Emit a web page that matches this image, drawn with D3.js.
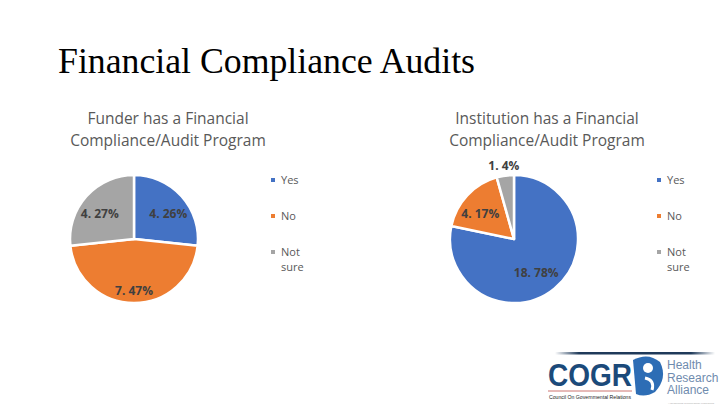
<!DOCTYPE html>
<html><head><meta charset="utf-8">
<script src="https://cdn.jsdelivr.net/npm/d3@7"></script>
<style>html,body{margin:0;padding:0;background:#fff;}svg{display:block;}</style>
</head><body>
<svg id="c" width="720" height="405"></svg>
<script>
const categories = ["Yes", "No", "Not sure"];
const funderCounts = [4, 7, 4];
const funderPct = [26, 47, 27];
const instCounts = [18, 4, 1];
const instPct = [78, 17, 4];
const colors = ["#4472C4", "#ED7D31", "#A5A5A5"];
const mainTitle = "Financial Compliance Audits";
const funderTitle = ["Funder has a Financial", "Compliance/Audit Program"];
const instTitle = ["Institution has a Financial", "Compliance/Audit Program"];

const svg = d3.select("#c");
const W = 720, H = 405;
svg.append("rect").attr("width", W).attr("height", H).attr("fill", "#fff");

const t = svg.append("text").attr("x", 58).attr("y", 73)
  .attr("font-family", "'Liberation Serif', 'DejaVu Serif', serif")
  .attr("font-size", 35).attr("fill", "#000").text(mainTitle)
  .attr("textLength", 417).attr("lengthAdjust", "spacingAndGlyphs");

function drawPie(cx, cy, r, counts, pcts, titleLines, titleX, legendX) {
  const g = svg.append("g");
  titleLines.forEach((line, i) => {
    g.append("text").attr("x", titleX).attr("y", 124 + i * 22)
      .attr("text-anchor", "middle")
      .attr("font-family", "'Open Sans', 'Noto Sans', sans-serif")
      .attr("font-size", 15.5).attr("fill", "#595959").text(line);
  });
  const data = categories.map((c, i) => ({cat: c, count: counts[i], pct: pcts[i], color: colors[i]}));
  const pie = d3.pie().sort(null).value(d => d.count);
  const arc = d3.arc().innerRadius(0).outerRadius(r);
  const arcs = pie(data);
  const pg = g.append("g").attr("transform", `translate(${cx},${cy})`);
  pg.selectAll("path").data(arcs).join("path")
    .attr("d", arc).attr("fill", d => d.data.color)
    .attr("stroke", "#fff").attr("stroke-width", 2.5).attr("stroke-linejoin", "round");
  const inner = d3.arc().innerRadius(r * 0.72).outerRadius(r * 0.72);
  const innerBig = d3.arc().innerRadius(r * 0.55).outerRadius(r * 0.55);
  const outer = d3.arc().innerRadius(r * 1.16).outerRadius(r * 1.16);
  pg.selectAll("text.lbl").data(arcs).join("text").attr("class", "lbl")
    .attr("transform", d => {
      const span = d.endAngle - d.startAngle;
      if (span < 0.5) { const p = outer.centroid(d); return `translate(${p[0]},${p[1]})`; }
      const p = span > Math.PI * 1.2 ? innerBig.centroid(d) : inner.centroid(d);
      return `translate(${p[0]},${p[1] + 6})`;
    })
    .attr("text-anchor", "middle").attr("dy", "0.35em")
    .attr("font-family", "'Open Sans', 'Noto Sans', sans-serif")
    .attr("font-size", 12).attr("font-weight", "bold").attr("fill", "#404040")
    .text(d => `${d.data.count}. ${d.data.pct}%`);
  const lg = g.append("g");
  data.forEach((d, i) => {
    const y = 180 + i * 36;
    lg.append("rect").attr("x", legendX).attr("y", y - 2).attr("width", 4).attr("height", 4).attr("fill", d.color);
    d.cat.split(" ").forEach((w, j) => {
      lg.append("text").attr("x", legendX + 10).attr("y", y + 4 + j * 15)
        .attr("font-family", "'Open Sans', 'Noto Sans', sans-serif")
        .attr("font-size", 11).attr("fill", "#595959").text(w);
    });
  });
}

drawPie(134, 239, 64, funderCounts, funderPct, funderTitle, 168, 271);
drawPie(514, 239, 64, instCounts, instPct, instTitle, 547, 657);

// logo
const logo = svg.append("g");
const grad = svg.append("defs").append("linearGradient").attr("id", "bar");
grad.append("stop").attr("offset", "0%").attr("stop-color", "#fff");
grad.append("stop").attr("offset", "15%").attr("stop-color", "#1f3a5a");
grad.append("stop").attr("offset", "85%").attr("stop-color", "#1f3a5a");
grad.append("stop").attr("offset", "100%").attr("stop-color", "#fff");
logo.append("rect").attr("x", 555).attr("y", 352).attr("width", 160).attr("height", 2.5).attr("fill", "url(#bar)");
logo.append("text").attr("x", 548).attr("y", 386).attr("font-family", "'Liberation Sans', Arial, sans-serif")
  .attr("font-weight", "bold").attr("font-size", 31).attr("fill", "#1B4A7A").attr("textLength", 84)
  .attr("lengthAdjust", "spacingAndGlyphs").text("COGR");
logo.append("line").attr("x1", 548).attr("x2", 632).attr("y1", 391).attr("y2", 391).attr("stroke", "#c0504d").attr("stroke-width", 0.8);
logo.append("text").attr("x", 549).attr("y", 399).attr("font-family", "'Liberation Sans', Arial, sans-serif")
  .attr("font-size", 5).attr("fill", "#222").attr("textLength", 82).attr("lengthAdjust", "spacingAndGlyphs")
  .text("Council On Governmental Relations");
logo.append("path").attr("d", "M633,360 Q648,352 660,362 Q668,378 655,392 Q645,398 636,394 Z").attr("fill", "#2D6DB5");
logo.append("circle").attr("cx", 648).attr("cy", 368).attr("r", 5).attr("fill", "#fff");
logo.append("path").attr("d", "M645,378 Q655,380 652,390").attr("stroke", "#fff").attr("stroke-width", 3).attr("fill", "none");
["Health", "Research", "Alliance"].forEach((w, i) => {
  logo.append("text").attr("x", 667).attr("y", 369 + i * 12.5).attr("font-family", "'Liberation Sans', Arial, sans-serif")
    .attr("font-size", 12).attr("fill", "#6F8BAE").text(w);
});
logo.append("text").attr("x", 668).attr("y", 403.5).attr("font-family", "'Liberation Sans', Arial, sans-serif")
  .attr("font-size", 2.5).attr("fill", "#aaa").attr("textLength", 46).attr("lengthAdjust", "spacingAndGlyphs")
  .text("Advancing biomedical research");
</script>
</body></html>
